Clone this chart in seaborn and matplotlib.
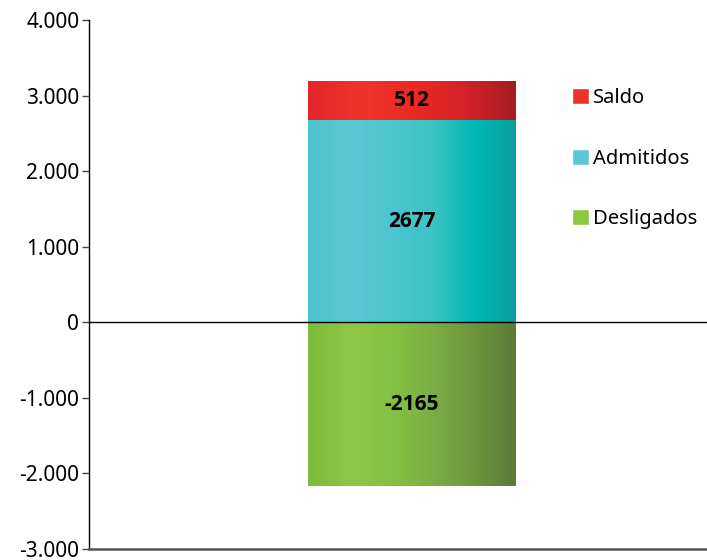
import numpy as np
import pandas as pd
import matplotlib
matplotlib.use('Agg')
import matplotlib.pyplot as plt
import seaborn as sns
from matplotlib.colors import LinearSegmentedColormap
from matplotlib.patches import Patch
from matplotlib.ticker import FuncFormatter
from matplotlib import font_manager

# dados
categoria = ['Total']
admitidos = [2677]
desligados = [-2165]
saldo = [512]

series = ['Saldo', 'Admitidos', 'Desligados']
cores = {'Saldo': '#ee3129', 'Admitidos': '#5bc8d6', 'Desligados': '#8dc63f'}

# gradientes horizontais (esquerda -> direita)
grad = {
    'Saldo': ['#e3262a', '#ee352d', '#ec2a25', '#d62228', '#a51c22'],
    'Admitidos': ['#4cc3cc', '#5bc8d6', '#4cc5cf', '#3ec3c5', '#00b8b6', '#0a9f9c'],
    'Desligados': ['#7cbb3c', '#8fc645', '#83c242', '#7cae44', '#6c963d', '#5d7a38'],
}

sns.set_style('white')
plt.rcParams['font.family'] = ['Noto Sans', 'DejaVu Sans']
plt.rcParams['text.color'] = 'black'
plt.rcParams['ytick.labelcolor'] = 'black'

# fonte em negrito para os rotulos: procura uma que tenha bold de fato
bold_fam = 'DejaVu Sans'
nomes = {(f.name, f.weight) for f in font_manager.fontManager.ttflist}
for cand in ['Open Sans', 'Noto Sans', 'Lato', 'Roboto']:
    if any(n == cand and (w == 'bold' or w == 700) for n, w in nomes):
        bold_fam = cand
        break

fig = plt.figure(figsize=(7.07, 5.6), dpi=100)
ax = fig.add_axes([0.1259, 0.0196, 0.8741, 0.9446])

df = pd.DataFrame({'cat': categoria, 'topo': [a + s for a, s in zip(admitidos, saldo)],
                   'adm': admitidos, 'des': desligados})

# empilhamento: barra do topo (adm + saldo) por baixo, depois admitidos, depois desligados
sns.barplot(data=df, x='cat', y='topo', color=cores['Saldo'], width=0.8, ax=ax,
            saturation=1, linewidth=0)
sns.barplot(data=df, x='cat', y='adm', color=cores['Admitidos'], width=0.8, ax=ax,
            saturation=1, linewidth=0)
sns.barplot(data=df, x='cat', y='des', color=cores['Desligados'], width=0.8, ax=ax,
            saturation=1, linewidth=0)

# aplica gradiente em cada retangulo
for patch, nome in zip(ax.patches, series):
    x0, y0 = patch.get_x(), patch.get_y()
    w, h = patch.get_width(), patch.get_height()
    cmap = LinearSegmentedColormap.from_list(nome, grad[nome])
    img = np.linspace(0, 1, 256).reshape(1, -1)
    ymin, ymax = sorted([y0, y0 + h])
    im = ax.imshow(img, cmap=cmap, aspect='auto', extent=[x0, x0 + w, ymin, ymax],
                   zorder=patch.get_zorder() + 0.1)
    im.set_clip_path(patch)

# rotulos dentro das barras
rot = dict(ha='center', va='center', fontsize=15, fontweight='bold',
           family=bold_fam, color='black', zorder=5)
ax.text(0, admitidos[0] + saldo[0] / 2, str(saldo[0]), **rot)
ax.text(0, admitidos[0] / 2, str(admitidos[0]), **rot)
ax.text(0, desligados[0] / 2, str(desligados[0]), **rot)

ax.set_xlim(-1.242, 1.135)
ax.set_ylim(-3000, 4000)
ax.set_yticks(range(-3000, 4001, 1000))
ax.yaxis.set_major_formatter(FuncFormatter(lambda v, p: f'{int(v):,}'.replace(',', '.')))
ax.tick_params(axis='y', which='major', left=True, length=5, width=1, color='#444444',
               labelsize=15, labelcolor='black', pad=2)
ax.set_xticks([])
ax.set_xlabel('')
ax.set_ylabel('')

ax.axhline(0, color='black', lw=1, zorder=6)
for s in ['top', 'right']:
    ax.spines[s].set_visible(False)
ax.spines['left'].set_color('black')
ax.spines['left'].set_linewidth(1)
ax.spines['bottom'].set_color('#555555')
ax.spines['bottom'].set_linewidth(1.8)

handles = [Patch(facecolor=cores[n], label=n) for n in series]
leg = ax.legend(handles=handles, loc='upper left', bbox_to_anchor=(0.768, 0.886),
                frameon=False, fontsize=14.5, handlelength=0.85, handleheight=0.85,
                handletextpad=0.2, labelspacing=2.0, borderaxespad=0)
for t in leg.get_texts():
    t.set_color('black')

fig.savefig('out.png', dpi=100)
